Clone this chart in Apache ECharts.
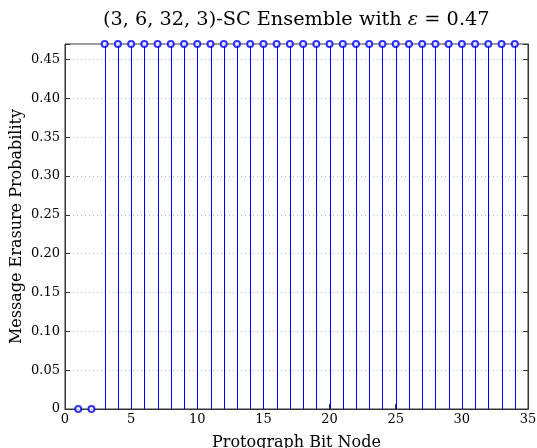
<!DOCTYPE html>
<html>
<head>
<meta charset="utf-8">
<script src="https://cdn.jsdelivr.net/npm/echarts@6/dist/echarts.min.js"></script>
<style>
  html, body { margin: 0; padding: 0; background: #fff; }
  #chart { width: 537px; height: 448px; }
</style>
</head>
<body>
<div id="chart"></div>
<script>
const bitNodes = [1, 2, 3, 4, 5, 6, 7, 8, 9, 10, 11, 12, 13, 14, 15, 16, 17, 18, 19, 20,
  21, 22, 23, 24, 25, 26, 27, 28, 29, 30, 31, 32, 33, 34];
const erasureProb = [0, 0, 0.47, 0.47, 0.47, 0.47, 0.47, 0.47, 0.47, 0.47, 0.47, 0.47,
  0.47, 0.47, 0.47, 0.47, 0.47, 0.47, 0.47, 0.47, 0.47, 0.47, 0.47, 0.47, 0.47, 0.47,
  0.47, 0.47, 0.47, 0.47, 0.47, 0.47, 0.47, 0.47];
const yTicks = [0, 0.05, 0.1, 0.15, 0.2, 0.25, 0.3, 0.35, 0.4, 0.45];

const points = bitNodes.map((x, i) => [x, erasureProb[i]]);
const serif = "'DejaVu Serif', 'Liberation Serif', serif";
const stemColor = "#0000ff";

const chart = echarts.init(document.getElementById("chart"));

function yLabel(v) {
  const hit = yTicks.find(t => Math.abs(t - v) < 1e-6);
  if (hit === undefined) return "";
  return hit === 0 ? "0" : hit.toFixed(2);
}

chart.setOption({
  animation: false,
  title: {
    text: "(3, 6, 32, 3)-SC Ensemble with {i|ε} = 0.47",
    left: 98,
    top: 5,
    textStyle: {
      fontFamily: serif,
      fontSize: 19.3,
      fontWeight: "normal",
      color: "#000",
      rich: { i: { fontFamily: serif, fontSize: 19.3, fontStyle: "italic", color: "#000" } },
    },
  },
  grid: {
    left: 65,
    right: 9,
    top: 44,
    bottom: 39,
    outerBoundsMode: "none",
    show: true,
    borderColor: "#333",
    borderWidth: 1,
  },
  xAxis: {
    type: "value",
    min: 0,
    max: 35,
    interval: 5,
    name: "Protograph Bit Node",
    nameLocation: "middle",
    nameGap: 26,
    nameTextStyle: { fontFamily: serif, fontSize: 16, color: "#000" },
    axisLine: { show: true, lineStyle: { color: "#333" } },
    axisTick: { inside: true, length: 5, lineStyle: { color: "#333" } },
    axisLabel: { fontFamily: serif, fontSize: 13, color: "#000", margin: 4 },
    splitLine: { show: false },
  },
  yAxis: [
    {
      type: "value",
      min: 0,
      max: 0.47,
      interval: 0.05,
      name: "Message Erasure Probability",
      nameLocation: "middle",
      nameGap: 40,
      nameMoveOverlap: false,
      nameTextStyle: { fontFamily: serif, fontSize: 16, color: "#000" },
      axisLine: { show: true, lineStyle: { color: "#333" } },
      axisTick: { inside: true, length: 5, lineStyle: { color: "#333" } },
      axisLabel: { fontFamily: serif, fontSize: 13, color: "#000", margin: 5, formatter: yLabel },
      splitLine: { show: true, lineStyle: { color: "#bbb", type: [1, 3], width: 1 } },
    },
    {
      type: "value",
      position: "right",
      min: 0,
      max: 0.47,
      interval: 0.05,
      axisLine: { show: true, lineStyle: { color: "#333" } },
      axisTick: { inside: true, length: 5, lineStyle: { color: "#333" } },
      axisLabel: { show: false },
      splitLine: { show: false },
    },
  ],
  series: [
    {
      type: "custom",
      data: points,
      renderItem: (params, api) => {
        const x = api.value(0);
        const top = api.coord([x, api.value(1)]);
        const base = api.coord([x, 0]);
        const px = Math.round(base[0]) + 0.5;
        return {
          type: "line",
          shape: { x1: px, y1: base[1], x2: px, y2: top[1] },
          style: { stroke: stemColor, lineWidth: 1 },
        };
      },
      z: 3,
    },
    {
      type: "scatter",
      data: points,
      symbol: "emptyCircle",
      symbolSize: 6,
      itemStyle: { color: stemColor, borderColor: stemColor, borderWidth: 1 },
      z: 4,
    },
  ],
});
</script>
</body>
</html>
